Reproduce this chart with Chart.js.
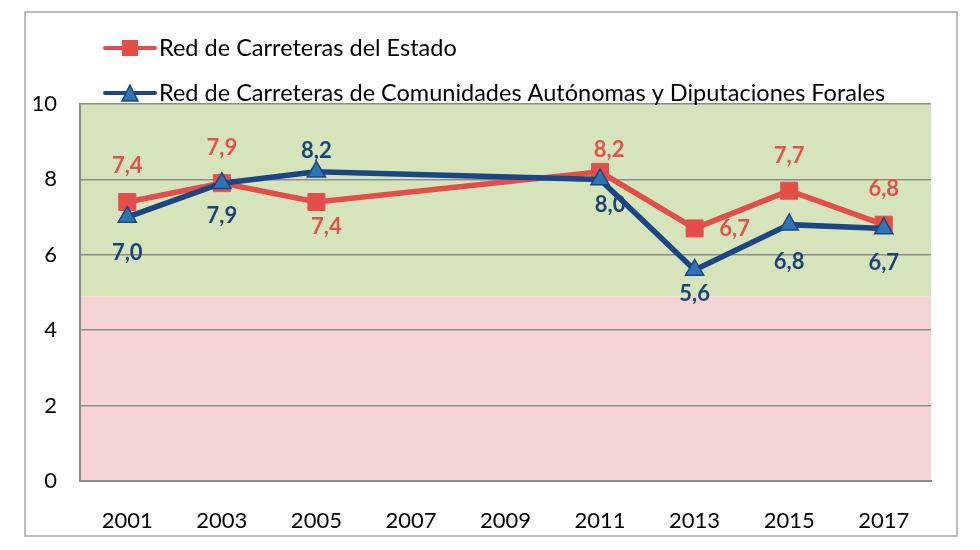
<!DOCTYPE html>
<html lang="es">
<head>
    <meta charset="UTF-8">
    <title>Red de Carreteras - valoración</title>
    <script src="https://cdn.jsdelivr.net/npm/chart.js"></script>
    <style>
        html, body { margin: 0; padding: 0; background: #fff; }
        canvas { display: block; }
    </style>
</head>
<body>
    <canvas id="roadsChart" width="980" height="550"></canvas>

    <script>
        // Data
        const years = ['2001', '2003', '2005', '2007', '2009', '2011', '2013', '2015', '2017'];
        const estadoValues = [7.4, 7.9, 7.4, null, null, 8.2, 6.7, 7.7, 6.8];
        const autonomicasValues = [7.0, 7.9, 8.2, null, null, 8.0, 5.6, 6.8, 6.7];
        const yTicks = [0, 2, 4, 6, 8, 10];
        const seriesNames = [
            'Red de Carreteras del Estado',
            'Red de Carreteras de Comunidades Autónomas y Diputaciones Forales'
        ];

        // Where each value label sits relative to its point (dx, dy in px)
        const estadoLabelOffsets = [[0, -36], [0, -35], [10, 25], null, null, [9, -22], [40, 0], [0, -35], [0, -36]];
        const autonomicasLabelOffsets = [[0, 36], [0, 33], [0, -21], null, null, [10, 26], [0, 24], [0, 37], [0, 34]];

        const bandSplit = 4.9;   // green above, pink below
        const redColor = '#E54D4B';
        const blueLine = '#1C4683';
        const blueFill = '#2E75B6';
        const fontFamily = 'Lato, "Open Sans", sans-serif';

        // Frame, background bands
        const backgroundPlugin = {
            id: 'bands',
            beforeDraw(chart) {
                const ctx = chart.ctx;
                const area = chart.chartArea;
                const y = chart.scales.y;
                ctx.save();
                ctx.strokeStyle = '#a6a6a6';
                ctx.lineWidth = 1.5;
                ctx.strokeRect(25, 12, 932, 524);

                const ySplit = y.getPixelForValue(bandSplit);
                ctx.fillStyle = '#D6E4BC';
                ctx.fillRect(area.left, y.getPixelForValue(y.max), area.right - area.left, ySplit - y.getPixelForValue(y.max));
                ctx.fillStyle = '#F6D4D3';
                ctx.fillRect(area.left, ySplit, area.right - area.left, y.getPixelForValue(0) - ySplit);
                ctx.restore();
            }
        };

        // Value labels ("7,4") next to each point
        const valueLabelPlugin = {
            id: 'valueLabels',
            afterDatasetsDraw(chart) {
                const ctx = chart.ctx;
                ctx.save();
                ctx.font = 'bold 22px ' + fontFamily;
                ctx.textAlign = 'center';
                ctx.textBaseline = 'middle';
                chart.data.datasets.forEach((ds, di) => {
                    const meta = chart.getDatasetMeta(di);
                    ctx.fillStyle = ds.labelColor;
                    meta.data.forEach((pt, i) => {
                        const v = ds.data[i];
                        const off = ds.labelOffsets[i];
                        if (v === null || !off) return;
                        const text = v.toFixed(1).replace('.', ',');
                        ctx.fillText(text, pt.x + off[0], pt.y + off[1]);
                    });
                });
                ctx.restore();
            }
        };

        // Legend drawn by hand: line with marker, two rows
        const legendPlugin = {
            id: 'customLegend',
            afterDraw(chart) {
                const ctx = chart.ctx;
                const rows = [
                    { y: 48, color: redColor, marker: 'rect' },
                    { y: 93, color: blueLine, marker: 'triangle' }
                ];
                ctx.save();
                rows.forEach((row, i) => {
                    ctx.strokeStyle = row.color;
                    ctx.lineWidth = 4;
                    ctx.lineCap = 'round';
                    ctx.beginPath();
                    ctx.moveTo(105, row.y);
                    ctx.lineTo(155, row.y);
                    ctx.stroke();

                    if (row.marker === 'rect') {
                        ctx.fillStyle = redColor;
                        ctx.fillRect(122, row.y - 8, 16, 16);
                    } else {
                        ctx.fillStyle = blueFill;
                        ctx.strokeStyle = blueLine;
                        ctx.lineWidth = 1.5;
                        ctx.beginPath();
                        ctx.moveTo(130, row.y - 8);
                        ctx.lineTo(138, row.y + 8);
                        ctx.lineTo(122, row.y + 8);
                        ctx.closePath();
                        ctx.fill();
                        ctx.stroke();
                    }

                    ctx.fillStyle = '#000';
                    ctx.font = '23.5px ' + fontFamily;
                    ctx.textAlign = 'left';
                    ctx.textBaseline = 'middle';
                    ctx.fillText(seriesNames[i], 159, row.y);
                });
                ctx.restore();
            }
        };

        const roadsChart = new Chart(document.getElementById('roadsChart'), {
            type: 'line',
            data: {
                labels: years,
                datasets: [{
                    label: seriesNames[0],
                    data: estadoValues,
                    borderColor: redColor,
                    backgroundColor: redColor,
                    borderWidth: 5.5,
                    pointStyle: 'rect',
                    pointRadius: 12,
                    pointBorderWidth: 1,
                    spanGaps: true,
                    order: 2,
                    labelColor: '#E5504E',
                    labelOffsets: estadoLabelOffsets
                }, {
                    label: seriesNames[1],
                    data: autonomicasValues,
                    borderColor: blueLine,
                    backgroundColor: blueFill,
                    pointBorderColor: blueLine,
                    borderWidth: 5.5,
                    pointStyle: 'triangle',
                    pointRadius: 10.5,
                    pointBorderWidth: 1.5,
                    spanGaps: true,
                    order: 1,
                    labelColor: '#1A4378',
                    labelOffsets: autonomicasLabelOffsets
                }]
            },
            options: {
                responsive: false,
                animation: false,
                devicePixelRatio: 1,
                layout: { padding: { top: 104, right: 49, bottom: 0, left: 0 } },
                plugins: {
                    legend: { display: false },
                    tooltip: { enabled: false }
                },
                scales: {
                    x: {
                        offset: true,
                        grid: { display: false },
                        border: { display: true, color: '#8c8c8c', width: 2 },
                        ticks: {
                            color: '#000',
                            font: { family: fontFamily, size: 22 },
                            padding: 19,
                            maxRotation: 0
                        },
                        afterFit(scale) { scale.height = 69; }
                    },
                    y: {
                        min: 0,
                        max: 10,
                        afterBuildTicks(scale) {
                            scale.ticks = yTicks.map(v => ({ value: v }));
                        },
                        grid: { color: '#8c8c8c', lineWidth: 1.5, drawTicks: false },
                        border: { display: true, color: '#8c8c8c', width: 2 },
                        ticks: {
                            color: '#000',
                            font: { family: fontFamily, size: 22 },
                            padding: 23
                        },
                        afterFit(scale) { scale.width = 80; }
                    }
                }
            },
            plugins: [backgroundPlugin, valueLabelPlugin, legendPlugin]
        });
    </script>
</body>
</html>
